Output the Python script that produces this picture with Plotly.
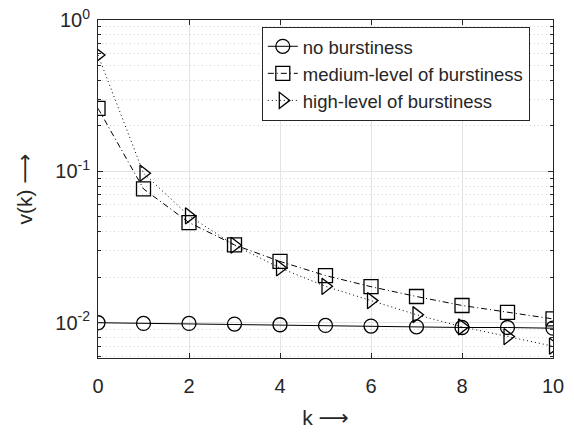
import plotly.graph_objects as go

k = list(range(11))
no_burst = [0.0100, 0.0099, 0.0099, 0.0098, 0.0097, 0.0096, 0.0095, 0.0094, 0.0093, 0.0093, 0.0092]
medium_burst = [0.261, 0.0766, 0.0459, 0.0327, 0.0254, 0.0205, 0.0173, 0.0149, 0.0130, 0.0117, 0.0106]
high_burst = [0.587, 0.0973, 0.0508, 0.0325, 0.0230, 0.0174, 0.0140, 0.0113, 0.0094, 0.0081, 0.0070]

names = ["no burstiness", "medium-level of burstiness", "high-level of burstiness"]
y_tickvals = [1, 0.1, 0.01]
y_ticktext = ["10<sup>0</sup>", "10<sup>-1</sup>", "10<sup>-2</sup>"]
y_minor_vals = [m * d for d in (0.001, 0.01, 0.1) for m in range(2, 10)]
x_tickvals = [0, 2, 4, 6, 8, 10]
arrow = "<span style='font-family:DejaVu Sans'>\u27f6</span>"

fig = go.Figure()
styles = [
    ("solid", "circle-open", no_burst),
    ("6px,3px,1px,3px", "square-open", medium_burst),
    ("1px,3px", "triangle-right-open", high_burst),
]
for name, (dash, sym, vals) in zip(names, styles):
    fig.add_trace(go.Scatter(
        x=k, y=vals, name=name, mode="lines+markers",
        line=dict(color="black", width=1, dash=dash),
        marker=dict(symbol=sym, size=14, color="black", line=dict(width=1.3, color="black")),
    ))

fig.update_layout(
    width=574, height=432,
    margin=dict(l=98, r=21, t=20, b=74),
    paper_bgcolor="white", plot_bgcolor="white",
    font=dict(family="Liberation Sans, Arial, sans-serif", color="#262626", size=20),
    showlegend=True,
    legend=dict(
        x=0.36, y=0.98, xanchor="left", yanchor="top",
        bordercolor="#262626", borderwidth=1, bgcolor="white",
        font=dict(size=18.5, color="#262626"), tracegroupgap=0,
        itemwidth=30,
    ),
)
fig.update_xaxes(
    range=[0, 10], tickvals=x_tickvals, automargin=False,
    showline=True, linecolor="#262626", linewidth=1, mirror="ticks",
    ticks="inside", ticklen=5, tickcolor="#262626",
    showgrid=True, gridcolor="#e3e3e3", gridwidth=1, zeroline=False,
    tickfont=dict(size=20), ticklabelstandoff=10,
    title=dict(text="k " + arrow, font=dict(size=21), standoff=14),
)
fig.update_yaxes(
    type="log", range=[-2.233, 0], automargin=False,
    tickvals=y_tickvals, ticktext=y_ticktext,
    showline=True, linecolor="#262626", linewidth=1, mirror="ticks",
    ticks="inside", ticklen=5, tickcolor="#262626",
    showgrid=True, gridcolor="#e3e3e3", gridwidth=1, zeroline=False,
    tickfont=dict(size=20), ticklabelstandoff=3,
    minor=dict(tickmode="array", tickvals=y_minor_vals,
               ticks="inside", ticklen=3, tickcolor="#262626", showgrid=True,
               gridcolor="#d6d6d6", griddash="1px,3px", gridwidth=1),
    title=dict(text="v(k) " + arrow, font=dict(size=21), standoff=16),
)

fig.write_html("out.html", config={"displayModeBar": False},
               post_script="document.body.style.margin='0';")
